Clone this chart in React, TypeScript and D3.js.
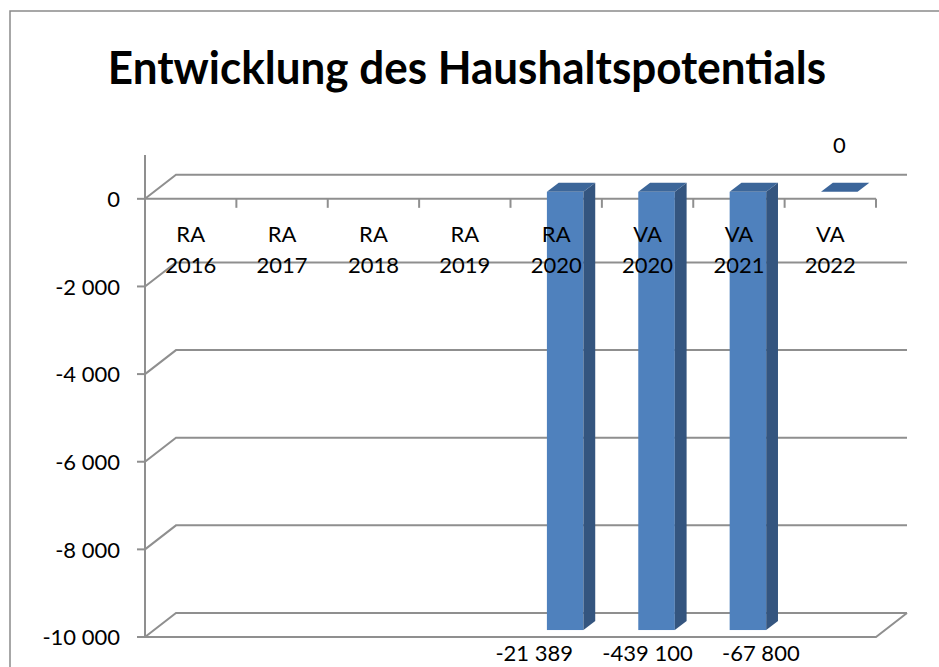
import React from 'react'
import * as d3 from 'd3'

const categories = ['RA 2016', 'RA 2017', 'RA 2018', 'RA 2019', 'RA 2020', 'VA 2020', 'VA 2021', 'VA 2022']
const values: (number | null)[] = [null, null, null, null, -21389, -439100, -67800, 0]
const yTicks = [0, -2000, -4000, -6000, -8000, -10000]

const W = 939, H = 667
const depthX = 31, depthY = -24 // 3D wall offset
const barDepth0 = 0.29, barDepth1 = 0.67

const font = 'Lato, "Open Sans", sans-serif'
const gridColor = '#8f8f8f'

const fmt = d3.formatLocale({ decimal: ',', thousands: ' ', grouping: [3], currency: ['', ''], minus: '-' }).format(',.0f')

export default function App() {
  const x = d3.scaleBand().domain(categories).range([145, 876]).paddingInner(0).paddingOuter(0)
  const y = d3.scaleLinear().domain([-10000, 1000]).range([637, 155])
  const yMin = -10000
  const step = x.step()
  const barW = step * 0.4

  const ox0 = depthX * barDepth0, oy0 = depthY * barDepth0
  const ox1 = depthX * barDepth1, oy1 = depthY * barDepth1

  const bars = categories.map((c, i) => ({ c, i, v: values[i] })).filter(d => d.v !== null) as { c: string, i: number, v: number }[]

  return (
    <svg width={W} height={H} style={{ position: 'absolute', left: 0, top: 0, background: '#fff' }}>
      {/* chart area border */}
      <path d={`M10,${H + 5} V11 H${W + 5}`} fill="none" stroke="#8a8a8a" strokeWidth={1.5} />

      <text x={467} y={84} textAnchor="middle" fontFamily={font} fontWeight={700} fontSize={44} fill="#000"
        transform="translate(0,84) scale(1,1.06) translate(0,-84)">
        Entwicklung des Haushaltspotentials
      </text>

      {/* side and back wall gridlines */}
      <g stroke={gridColor} strokeWidth={2} fill="none">
        {yTicks.map(t => (
          <path key={t} d={`M145,${y(t)} L${145 + depthX},${y(t) + depthY} H${876 + depthX}`} />
        ))}
        {/* floor */}
        <path d={`M145,${y(yMin)} H876 L${876 + depthX},${y(yMin) + depthY}`} />
      </g>

      {/* category axis at zero, behind the bars */}
      <g stroke={gridColor} strokeWidth={2}>
        <line x1={145} x2={876} y1={y(0)} y2={y(0)} />
        {categories.map(c => {
          const xe = (x(c) as number) + step
          return <line key={c} x1={xe} x2={xe} y1={y(0)} y2={y(0) + 9} />
        })}
      </g>

      {/* bars */}
      {bars.map(d => {
        const xl = (x(d.c) as number) + (step - barW) / 2 + ox0
        const xr = xl + barW
        const vc = Math.max(d.v, yMin) // clipped to the axis minimum
        const yt = y(Math.max(vc, 0)) + oy0
        const yb = y(Math.min(vc, 0)) + oy0
        const dx = ox1 - ox0, dy = oy1 - oy0
        if (yb - yt < 0.5) {
          return (
            <path key={d.c} d={`M${xl},${yt} L${xr},${yt} L${xr + dx},${yt + dy} L${xl + dx},${yt + dy} Z`} fill="#3b659a" />
          )
        }
        return (
          <g key={d.c}>
            <rect x={xl} y={yt} width={barW} height={yb - yt} fill="#4f81bd" />
            <path d={`M${xr},${yt} L${xr + dx},${yt + dy} L${xr + dx},${yb + dy} L${xr},${yb} Z`} fill="#34557f" />
            <path d={`M${xl},${yt} L${xr},${yt} L${xr + dx},${yt + dy} L${xl + dx},${yt + dy} Z`} fill="#3c6699" />
          </g>
        )
      })}

      {/* value axis */}
      <g stroke={gridColor} strokeWidth={2}>
        <line x1={145} x2={145} y1={y(1000)} y2={y(yMin) + 1} />
        {yTicks.map(t => <line key={t} x1={137} x2={145} y1={y(t)} y2={y(t)} />)}
      </g>

      <g fontFamily={font} fontSize={22} fill="#000">
        {yTicks.map(t => (
          <text key={t} x={120} y={y(t)} dy="0.38em" textAnchor="end">{fmt(t)}</text>
        ))}
        {categories.map(c => {
          const [a, b] = c.split(' ')
          const cx = (x(c) as number) + step / 2
          return (
            <text key={c} textAnchor="middle">
              <tspan x={cx} y={242}>{a}</tspan>
              <tspan x={cx} y={273}>{b}</tspan>
            </text>
          )
        })}
        {bars.map(d => {
          const cx = (x(d.c) as number) + step / 2 + ox0
          if (d.v >= 0) {
            return <text key={d.c} x={cx} y={y(d.v) - 46} textAnchor="middle">{fmt(d.v)}</text>
          }
          // labels of clipped bars sit below the floor, spread slightly as in the original
          const lx = cx + (d.i - 5) * step * 0.24 - 9
          return <text key={d.c} x={lx} y={661} textAnchor="middle">{fmt(d.v)}</text>
        })}
      </g>
    </svg>
  )
}
